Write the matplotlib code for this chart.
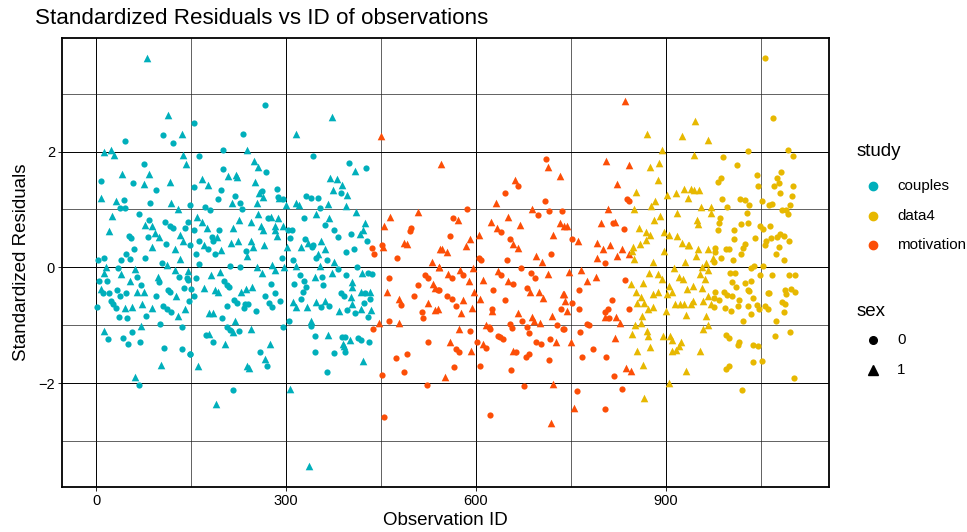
import matplotlib
matplotlib.use("Agg")
import matplotlib.pyplot as plt
from matplotlib.lines import Line2D
import numpy as np

plt.rcParams['font.family'] = ['Liberation Sans', 'DejaVu Sans']

# (observation id, standardized residual)
couples_sex0 = [
    (106, 2.29), (121, 2.14), (46, 2.18), (75, 1.79), (8, 1.49), (58, 1.46), (94, 1.34), (44, 1.17),
    (85, 1.12), (37, 1.03), (45, 1.03), (67, 0.92), (83, 0.81), (109, 0.78), (116, 0.72), (122, 0.68),
    (141, 0.68), (52, 0.54), (55, 0.50), (82, 0.52), (111, 0.41), (60, 0.31), (48, 0.23), (40, 0.13),
    (53, 0.14), (77, 0.16), (12, 0.17), (3, 0.12), (104, 0.08), (34, -0.01), (65, -0.16), (4, -0.23),
    (18, -0.23), (131, -0.17), (144, -0.19), (71, -0.30), (99, -0.26), (11, -0.45), (20, -0.45),
    (33, -0.39), (114, -0.39), (139, -0.35), (47, -0.45), (38, -0.49), (95, -0.49), (117, -0.43),
    (23, -0.58), (27, -0.64), (146, -0.58), (32, -0.70), (2, -0.68), (105, -0.66), (112, -0.71),
    (118, -0.77), (36, -0.86), (49, -0.87), (79, -0.84), (101, -0.97), (136, -1.03), (19, -1.23),
    (42, -1.21), (57, -1.11), (51, -1.33), (69, -1.29), (108, -1.39), (135, -1.40), (149, -1.50),
    (68, -2.03),
    (267, 2.81), (154, 2.49), (232, 2.31), (163, 1.92), (201, 2.02), (342, 1.92), (269, 1.65),
    (200, 1.70), (154, 1.39), (198, 1.34), (262, 1.32), (286, 1.35), (220, 1.23), (193, 1.18),
    (227, 1.12), (288, 1.21), (295, 1.18), (149, 1.08), (172, 1.04), (180, 0.99), (230, 1.00),
    (331, 1.23), (340, 1.19), (271, 0.86), (328, 0.86), (145, 0.79), (155, 0.65), (194, 0.65),
    (303, 0.64), (309, 0.64), (183, 0.53), (163, 0.45), (148, 0.38), (185, 0.46), (177, 0.31),
    (188, 0.24), (306, 0.50), (330, 0.49), (341, 0.35), (237, 0.29), (158, 0.23), (163, 0.06),
    (293, 0.17), (211, 0.03), (228, 0.01), (311, 0.13), (322, -0.13), (145, -0.21), (158, -0.19),
    (202, -0.24), (206, -0.30), (210, -0.33), (276, -0.29), (313, -0.29), (328, -0.24), (331, -0.33),
    (150, -0.38), (154, -0.49), (266, -0.50), (283, -0.45), (326, -0.42), (218, -0.56), (222, -0.62),
    (235, -0.64), (273, -0.61), (278, -0.68), (291, -0.58), (207, -0.66), (233, -0.70), (240, -0.64),
    (323, -0.55), (252, -0.75), (199, -0.87), (206, -1.02), (211, -1.08), (226, -1.09), (295, -1.03),
    (304, -0.93), (340, -1.01), (174, -1.16), (184, -1.29), (149, -1.50), (259, -1.46), (345, -1.46),
    (270, -1.71), (216, -2.12),
    (399, 1.80), (427, 1.72), (386, 1.29), (351, 1.19), (353, 1.03), (361, 0.74), (376, 0.65),
    (382, 0.52), (403, 0.57), (428, 0.46), (342, 0.38), (408, 0.31), (395, 0.26), (347, 0.17),
    (364, 0.13), (382, -0.03), (412, 0.00), (429, -0.10), (436, -0.12), (394, -0.13), (356, -0.17),
    (359, -0.30), (387, -0.45), (392, -0.49), (424, -0.45), (433, -0.55), (355, -0.68), (368, -0.67),
    (423, -0.61), (397, -0.74), (409, -0.79), (429, -0.86), (345, -1.18), (389, -1.20), (393, -1.20),
    (413, -1.21), (418, -1.26), (431, -1.28), (376, -1.47), (393, -1.46), (365, -1.80),
]
couples_sex1 = [
    (80, 3.61), (113, 2.63), (136, 2.30), (12, 1.99), (24, 2.03), (29, 1.94), (137, 1.94), (142, 1.78),
    (41, 1.62), (83, 1.61), (75, 1.44), (117, 1.47), (7, 1.20), (31, 1.15), (118, 1.12), (129, 1.00),
    (25, 0.89), (20, 0.62), (77, 0.74), (89, 0.72), (93, 0.59), (100, 0.52), (133, 0.56), (137, 0.46),
    (88, 0.35), (125, 0.32), (133, 0.14), (112, 0.05), (15, 0.01), (62, -0.03), (125, -0.04),
    (145, -0.06), (12, -0.09), (39, -0.12), (97, -0.17), (54, -0.23), (7, -0.38), (64, -0.42),
    (76, -0.42), (126, -0.49), (46, -0.70), (56, -0.68), (72, -0.64), (88, -0.70), (140, -0.71),
    (130, -0.84), (71, -1.01), (13, -1.10), (103, -1.69), (61, -1.89),
    (315, 2.31), (238, 2.03), (250, 1.84), (255, 1.73), (209, 1.58), (221, 1.59), (223, 1.56),
    (167, 1.52), (176, 1.42), (251, 1.47), (264, 1.22), (257, 1.28), (214, 1.12), (254, 1.12),
    (289, 1.19), (300, 1.07), (316, 1.12), (321, 1.07), (160, 0.87), (168, 0.78), (225, 0.82),
    (245, 0.79), (256, 0.93), (276, 0.87), (288, 0.86), (175, 0.68), (217, 0.68), (261, 0.72),
    (263, 0.64), (282, 0.72), (295, 0.72), (283, 0.64), (191, 0.52), (213, 0.42), (224, 0.46),
    (244, 0.46), (171, 0.38), (265, 0.39), (286, 0.55), (248, 0.35), (197, 0.30), (301, 0.36),
    (335, 0.43), (324, 0.35), (238, 0.19), (254, 0.01), (278, 0.05), (283, -0.04), (297, 0.00),
    (316, 0.02), (182, -0.13), (196, -0.08), (262, -0.09), (170, -0.36), (188, -0.39), (192, -0.42),
    (229, -0.42), (237, -0.38), (247, -0.34), (311, -0.59), (316, -0.68), (333, -0.68), (178, -0.79),
    (185, -0.79), (219, -0.93), (216, -1.11), (245, -1.06), (339, -0.93), (179, -1.15), (203, -1.32),
    (274, -1.32), (267, -1.58), (161, -1.70), (239, -1.70), (241, -1.74), (306, -2.10), (190, -2.36),
    (336, -3.43),
    (372, 2.60), (409, 1.66), (369, 1.55), (380, 1.52), (389, 1.43), (374, 1.33), (397, 1.25),
    (366, 1.09), (394, 1.06), (348, 0.93), (410, 0.96), (368, 0.86), (425, 0.77), (421, 0.64),
    (416, 0.58), (355, 0.46), (362, 0.31), (351, 0.23), (376, 0.10), (354, 0.02), (420, -0.09),
    (346, -0.16), (373, -0.10), (404, -0.25), (404, -0.34), (432, -0.42), (419, -0.43), (402, -0.51),
    (348, -0.59), (362, -0.58), (404, -0.64), (434, -0.74), (418, -0.71), (384, -0.75), (367, -1.16),
    (401, -1.26), (390, -1.32), (391, -1.36), (421, -1.61),
]
motivation_sex0 = [
    (497, 0.68), (495, 0.62), (436, 0.34), (439, 0.24), (451, 0.39), (476, 0.17), (520, -0.13),
    (524, -0.19), (541, -0.39), (463, -0.19), (509, -0.30), (502, -0.49), (482, -0.65), (515, -0.77),
    (517, -0.87), (462, -0.93), (438, -1.07), (524, -1.29), (474, -1.57), (491, -1.49), (486, -1.81),
    (452, -1.86), (523, -2.03), (454, -2.59),
    (711, 1.87), (666, 1.41), (646, 1.29), (709, 1.14), (585, 1.01), (698, 0.91), (716, 0.98),
    (736, 0.98), (564, 0.86), (639, 0.61), (559, 0.54), (653, 0.49), (719, 0.24), (604, 0.17),
    (608, 0.13), (649, 0.13), (671, -0.01), (562, -0.19), (579, -0.13), (640, -0.13), (687, -0.09),
    (693, -0.19), (658, -0.29), (540, -0.39), (681, -0.35), (627, -0.39), (554, -0.49), (562, -0.55),
    (646, -0.56), (569, -0.67), (625, -0.71), (735, -0.72), (673, -0.93), (654, -0.97), (657, -1.04),
    (680, -1.03), (683, -1.13), (728, -0.99), (738, -1.06), (620, -1.03), (622, -1.07), (591, -1.09),
    (635, -1.19), (643, -1.23), (638, -1.20), (602, -1.29), (615, -1.39), (569, -1.40), (573, -1.46),
    (695, -1.29), (703, -1.33), (717, -1.23), (663, -1.46), (679, -1.54), (683, -1.50), (566, -1.72),
    (607, -1.71), (656, -1.77), (716, -1.59), (675, -2.05), (622, -2.54),
    (839, 1.18), (842, 1.15), (816, 0.77), (834, 0.66), (752, 0.49), (804, 0.08), (836, -0.21),
    (763, -0.39), (751, -0.61), (814, -0.56), (762, -0.71), (803, -0.77), (809, -0.72), (810, -0.87),
    (842, -0.72), (739, -1.06), (775, -0.97), (778, -0.99), (764, -1.12), (784, -1.41), (768, -1.55),
    (806, -1.55), (818, -1.87), (759, -2.13), (831, -2.09), (803, -2.45),
]
motivation_sex1 = [
    (450, 2.26), (464, 0.87), (454, 0.72), (508, 0.96), (487, 0.42), (491, 0.41), (453, 0.36),
    (544, 1.78), (543, 0.32), (530, 0.09), (541, 0.00), (532, -0.29), (536, -0.35), (459, -0.43),
    (478, -0.55), (524, -0.61), (536, -0.74), (447, -0.96), (479, -0.96),
    (714, 1.73), (732, 1.57), (662, 1.51), (632, 1.11), (688, 1.00), (571, 0.81), (650, 0.87),
    (624, 0.78), (670, 0.74), (633, 0.68), (733, 0.77), (739, 0.71), (604, 0.56), (590, 0.49),
    (722, 0.56), (659, 0.41), (667, 0.33), (584, 0.37), (546, 0.32), (554, 0.26), (695, 0.19),
    (704, 0.10), (542, 0.01), (575, -0.04), (595, -0.01), (634, -0.06), (555, -0.12), (713, -0.12),
    (589, -0.24), (611, -0.22), (650, -0.23), (685, -0.42), (597, -0.43), (607, -0.54), (700, -0.43),
    (705, -0.52), (738, -0.46), (540, -0.72), (580, -0.56), (576, -0.78), (593, -0.70), (626, -0.75),
    (666, -0.78), (688, -0.86), (691, -0.93), (701, -0.96), (720, -0.84), (615, -1.00), (573, -1.07),
    (559, -1.28), (611, -1.32), (592, -1.45), (726, -1.28), (659, -1.44), (551, -1.90), (721, -2.01),
    (718, -2.68),
    (835, 2.88), (805, 1.84), (841, 1.77), (823, 1.44), (808, 1.00), (798, 0.77), (820, 0.78),
    (743, 0.71), (761, 0.46), (791, 0.42), (800, 0.32), (812, 0.39), (830, 0.31), (842, 0.23),
    (791, 0.16), (822, 0.19), (747, -0.08), (766, -0.04), (776, -0.23), (789, -0.17), (739, -0.46),
    (740, -0.58), (744, -0.75), (804, -0.86), (821, -0.86), (828, -0.96), (820, -1.22), (750, -1.28),
    (837, -1.73), (845, -1.79), (754, -2.43),
]
data4_sex0 = [
    (1057, 3.61), (1069, 2.58), (1030, 2.01), (1093, 2.02), (1100, 1.92), (990, 1.91), (1012, 1.76),
    (1082, 1.64), (1043, 1.59), (1075, 1.54), (987, 1.55), (982, 1.47), (1046, 1.41), (1078, 1.46),
    (1070, 1.40), (1101, 1.41), (1080, 1.29), (1099, 1.23), (989, 1.18), (1017, 1.18), (1024, 1.17),
    (1031, 1.08), (1051, 1.14), (1062, 1.07), (1068, 1.09), (1096, 1.08), (997, 1.04), (1083, 0.99),
    (1089, 0.99), (1092, 0.92), (1028, 0.94), (986, 0.85), (984, 0.77), (1018, 0.75), (1029, 0.77),
    (1049, 0.72), (1054, 0.67), (1065, 0.71), (982, 0.64), (1008, 0.64), (1008, 0.49), (1041, 0.50),
    (1058, 0.45), (1066, 0.50), (1076, 0.52), (1080, 0.58), (1086, 0.54), (1095, 0.45), (1025, 0.41),
    (1057, 0.38), (1078, 0.35), (978, 0.34), (994, 0.31), (1000, 0.31), (1022, 0.34), (978, 0.26),
    (1074, 0.24), (987, 0.17), (1006, 0.13), (1018, 0.23), (1087, 0.13), (1053, 0.03), (1035, -0.01),
    (1039, 0.03), (976, 0.10), (1001, -0.10), (1009, -0.10), (1048, -0.13), (1068, -0.13),
    (1094, -0.13), (1103, -0.13), (1004, -0.25), (1025, -0.27), (1034, -0.24), (1011, -0.34),
    (1029, -0.39), (1031, -0.41), (1061, -0.45), (1063, -0.44), (1088, -0.39), (1097, -0.38),
    (1104, -0.43), (1089, -0.46), (992, -0.43), (997, -0.48), (1005, -0.49), (977, -0.43),
    (976, -0.52), (984, -0.56), (1037, -0.53), (1016, -0.57), (1084, -0.59), (1088, -0.63),
    (1013, -0.66), (1029, -0.66), (1043, -0.65), (1057, -0.66), (976, -0.68), (993, -0.70),
    (1003, -0.75), (1047, -0.71), (1061, -0.72), (1035, -0.80), (1086, -0.77), (1021, -0.93),
    (1073, -0.93), (1096, -1.12), (995, -1.16), (999, -1.21), (1072, -1.18), (1015, -1.28),
    (1014, -1.34), (1038, -1.34), (1045, -1.35), (1051, -1.61), (1038, -1.63), (1000, -1.71),
    (995, -1.76), (1102, -1.91), (1020, -2.12),
]
data4_sex1 = [
    (870, 2.31), (926, 2.26), (894, 2.03), (889, 1.81), (874, 1.74), (887, 1.51), (853, 1.30),
    (901, 1.25), (916, 1.28), (929, 1.36), (934, 1.20), (883, 1.14), (877, 1.06), (850, 1.00),
    (918, 0.94), (891, 0.88), (881, 0.81), (858, 0.68), (868, 0.61), (875, 0.56), (897, 0.61),
    (904, 0.56), (917, 0.55), (869, 0.48), (859, 0.41), (848, 0.35), (846, 0.29), (925, 0.42),
    (934, 0.38), (897, 0.29), (849, 0.14), (880, 0.10), (930, 0.10), (912, -0.01), (873, -0.09),
    (887, -0.12), (894, -0.20), (845, -0.29), (864, -0.27), (905, -0.32), (921, -0.17), (927, -0.20),
    (852, -0.42), (879, -0.46), (888, -0.43), (902, -0.46), (909, -0.43), (933, -0.38), (860, -0.51),
    (855, -0.61), (866, -0.61), (914, -0.64), (922, -0.63), (929, -0.64), (872, -0.71), (880, -0.68),
    (900, -0.75), (862, -0.84), (932, -0.82), (851, -1.00), (861, -0.96), (846, -1.15), (870, -1.10),
    (871, -1.19), (895, -1.19), (906, -1.18), (910, -1.25), (923, -1.29), (875, -1.38), (855, -1.45),
    (910, -1.45), (916, -1.42), (920, -1.36), (863, -1.69), (932, -1.78), (904, -2.00), (865, -2.26),
    (946, 2.52), (967, 2.20), (944, 1.94), (939, 1.36), (945, 1.33), (952, 1.33), (955, 1.04),
    (971, 1.04), (971, 0.94), (949, 0.81), (950, 0.75), (936, 0.38), (951, 0.32), (966, 0.32),
    (947, 0.20), (974, 0.17), (963, 0.07), (957, 0.01), (966, -0.05), (954, -0.12), (961, -0.20),
    (942, -0.32), (957, -0.35), (967, -0.49), (942, -0.58), (959, -0.58), (939, -0.64), (971, -0.64),
    (963, -0.84), (959, -1.06), (967, -1.00), (953, -1.44),
]

studies = ['couples', 'data4', 'motivation']
study_colors = {'couples': '#00AFBB', 'data4': '#E7B800', 'motivation': '#FC4E07'}
groups = [
    ('couples', '0', couples_sex0), ('couples', '1', couples_sex1),
    ('motivation', '0', motivation_sex0), ('motivation', '1', motivation_sex1),
    ('data4', '0', data4_sex0), ('data4', '1', data4_sex1),
]
sex_markers = {'0': ('o', 20), '1': ('^', 30)}

fig = plt.figure(figsize=(9.67, 5.32), dpi=100)
ax = fig.add_axes([0.064, 0.0846, 0.793, 0.844])

for study, sex, pts in groups:
    arr = np.array(pts)
    mk, sz = sex_markers[sex]
    ax.scatter(arr[:, 0], arr[:, 1], s=sz, marker=mk, color=study_colors[study],
               linewidths=0, zorder=3)

ax.set_xlim(-54, 1157)
ax.set_ylim(-3.79, 3.96)
ax.set_xticks([0, 300, 600, 900])
ax.set_xticks([150, 450, 750, 1050], minor=True)
ax.set_yticks([-2, 0, 2])
ax.set_yticklabels(['\u22122', '0', '2'])
ax.set_yticks([-3, -1, 1, 3], minor=True)
ax.grid(which='major', color='black', linewidth=0.7, zorder=0)
ax.grid(which='minor', color='#222222', linewidth=0.5, zorder=0)
ax.set_axisbelow(True)
ax.tick_params(which='major', length=3, width=0.6, color='black', labelsize=10.5,
               labelcolor='black', pad=2)
ax.tick_params(which='minor', length=0)
for sp in ax.spines.values():
    sp.set_color('black')
    sp.set_linewidth(1.3)

ax.set_xlabel('Observation ID', fontsize=13.5, labelpad=3)
ax.set_ylabel('Standardized Residuals', fontsize=13.5, labelpad=6)
fig.text(35 / 967, 1 - 18 / 532, 'Standardized Residuals vs ID of observations',
         fontsize=16.1, ha='left', va='center')

# legends drawn in figure pixel positions
def fx(px):
    return px / 967

def fy(py):
    return 1 - py / 532

fig.text(fx(857), fy(152), 'study', fontsize=13.5, ha='left', va='center')
for i, st in enumerate(studies):
    y = 186 + i * 29.5
    fig.add_artist(Line2D([fx(873)], [fy(y)], marker='o', markersize=6, color=study_colors[st],
                          linestyle='none', transform=fig.transFigure))
    fig.text(fx(897), fy(y), st, fontsize=10.9, ha='left', va='center')

fig.text(fx(857), fy(311), 'sex', fontsize=13.5, ha='left', va='center')
for i, sx in enumerate(['0', '1']):
    y = 340 + i * 30
    mk = sex_markers[sx][0]
    fig.add_artist(Line2D([fx(873)], [fy(y)], marker=mk, markersize=5.5 if mk == 'o' else 6.5,
                          color='black', linestyle='none', transform=fig.transFigure))
    fig.text(fx(897), fy(y), sx, fontsize=10.9, ha='left', va='center')

fig.savefig('out.png', dpi=100)
